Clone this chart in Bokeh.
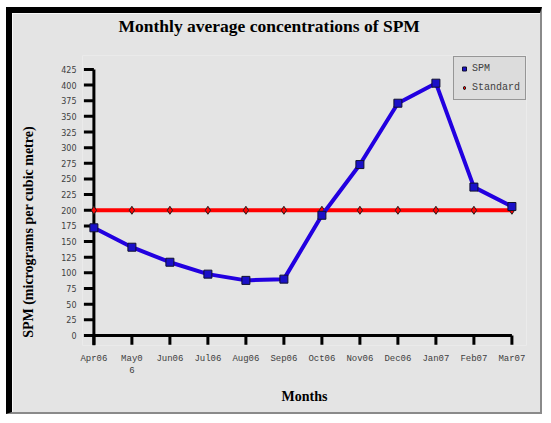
from bokeh.plotting import figure
from bokeh.models import Range1d, FixedTicker, Legend, LegendItem, ColumnDataSource, Title
from bokeh.embed import file_html
from bokeh.resources import INLINE

months = ["Apr06", "May0\n6", "Jun06", "Jul06", "Aug06", "Sep06",
          "Oct06", "Nov06", "Dec06", "Jan07", "Feb07", "Mar07"]
spm = [172, 141, 117, 98, 88, 90, 192, 273, 371, 403, 237, 206]
standard = [200, 200, 200, 200, 200, 200, 200, 200, 200, 200, 200, 200]
y_ticks = list(range(0, 426, 25))

x_idx = list(range(len(months)))
src = ColumnDataSource(dict(x=x_idx, spm=spm, std=standard))

BG = "#e4e4e4"
Y_MIN = -16
p = figure(width=536, height=407, output_backend="svg", toolbar_location=None,
           x_range=Range1d(-0.3, 11.384), y_range=Range1d(Y_MIN, 447.2),
           min_border_left=70, min_border_right=22, min_border_top=40, min_border_bottom=75,
           background_fill_color=BG, border_fill_color=BG, outline_line_color=None,
           title=None)
p.styles = {"border-top": "6px solid black", "border-left": "6px solid black",
            "border-right": "2px solid #8a8a8a", "border-bottom": "2px solid #8a8a8a",
            "margin-left": "6px", "margin-top": "7px"}

title = Title(text="Monthly average concentrations of SPM\n\u00a0",
              text_font="Liberation Serif", text_font_size="17.5px",
              text_font_style="bold", text_color="black", align="left", offset=36,
              text_line_height=1.0)
if "standoff" in Title.properties():
    title.standoff = 0
p.add_layout(title, "above")

p.xgrid.visible = False
p.ygrid.visible = False

for ax in (p.xaxis[0], p.yaxis[0]):
    ax.axis_line_color = None
    ax.major_tick_line_color = None
    ax.major_tick_in = 0
    ax.major_tick_out = 0
    ax.minor_tick_line_color = None
    ax.major_label_text_color = "#404040"
    ax.axis_label_text_font = "Liberation Serif"
    ax.axis_label_text_font_style = "bold"
    ax.axis_label_text_font_size = "14px"
    ax.axis_label_text_color = "black"

p.xaxis.ticker = FixedTicker(ticks=x_idx)
p.xaxis.major_label_overrides = {i: m for i, m in enumerate(months)}
p.xaxis.major_label_text_font = "Liberation Mono"
p.xaxis.major_label_text_font_size = "9px"
p.xaxis.major_label_standoff = 8
p.xaxis.axis_label = "Months"
p.xaxis.axis_label_standoff = 10

p.yaxis.ticker = FixedTicker(ticks=y_ticks)
p.yaxis.major_label_text_font = "DejaVu Sans"
p.yaxis.major_label_text_font_size = "8px"
p.yaxis.major_label_standoff = 6
p.yaxis.axis_label = "SPM (micrograms per cubic metre)" + "\u00a0" * 18
p.yaxis.axis_label_standoff = 22

# axis lines and tick marks drawn through the data scales
AX = "black"
ytick_len = 0.263   # x units (about 10 px)
xtick_len = 15      # y units (about 9.5 px)
p.segment(x0=[0], y0=[Y_MIN], x1=[0], y1=[max(y_ticks)], line_color=AX, line_width=3)
p.segment(x0=[0], y0=[0], x1=[x_idx[-1]], y1=[0], line_color=AX, line_width=3)
p.segment(x0=[0] * len(y_ticks), y0=y_ticks, x1=[-ytick_len] * len(y_ticks), y1=y_ticks,
          line_color=AX, line_width=3)
p.segment(x0=x_idx, y0=[0] * len(x_idx), x1=x_idx, y1=[-xtick_len] * len(x_idx),
          line_color=AX, line_width=3)

p.line("x", "std", source=src, line_color="#ff0000", line_width=4)
std_pts = p.scatter("x", "std", source=src, marker="diamond", size=8,
                    fill_color="#ff0000", line_color="#202020", line_width=1)
p.line("x", "spm", source=src, line_color="#2200e0", line_width=4)
spm_pts = p.scatter("x", "spm", source=src, marker="square", size=8,
                    fill_color="#1a10c8", line_color="#101030", line_width=1)

legend = Legend(items=[LegendItem(label="SPM", renderers=[spm_pts]),
                       LegendItem(label="Standard", renderers=[std_pts])],
                location=(371, 245), orientation="vertical")
legend.background_fill_color = "#dcdcdc"
legend.background_fill_alpha = 1
legend.border_line_color = "#505050"
legend.border_line_width = 1
legend.label_text_font = "Liberation Mono"
legend.label_text_font_size = "10px"
legend.label_text_color = "#404040"
legend.glyph_width = 10
legend.glyph_height = 13
legend.label_height = 13
legend.label_standoff = 3
legend.spacing = 6
legend.padding = 5
legend.margin = 0
p.add_layout(legend, "center")

open("out.html", "w").write(file_html(p, INLINE))
